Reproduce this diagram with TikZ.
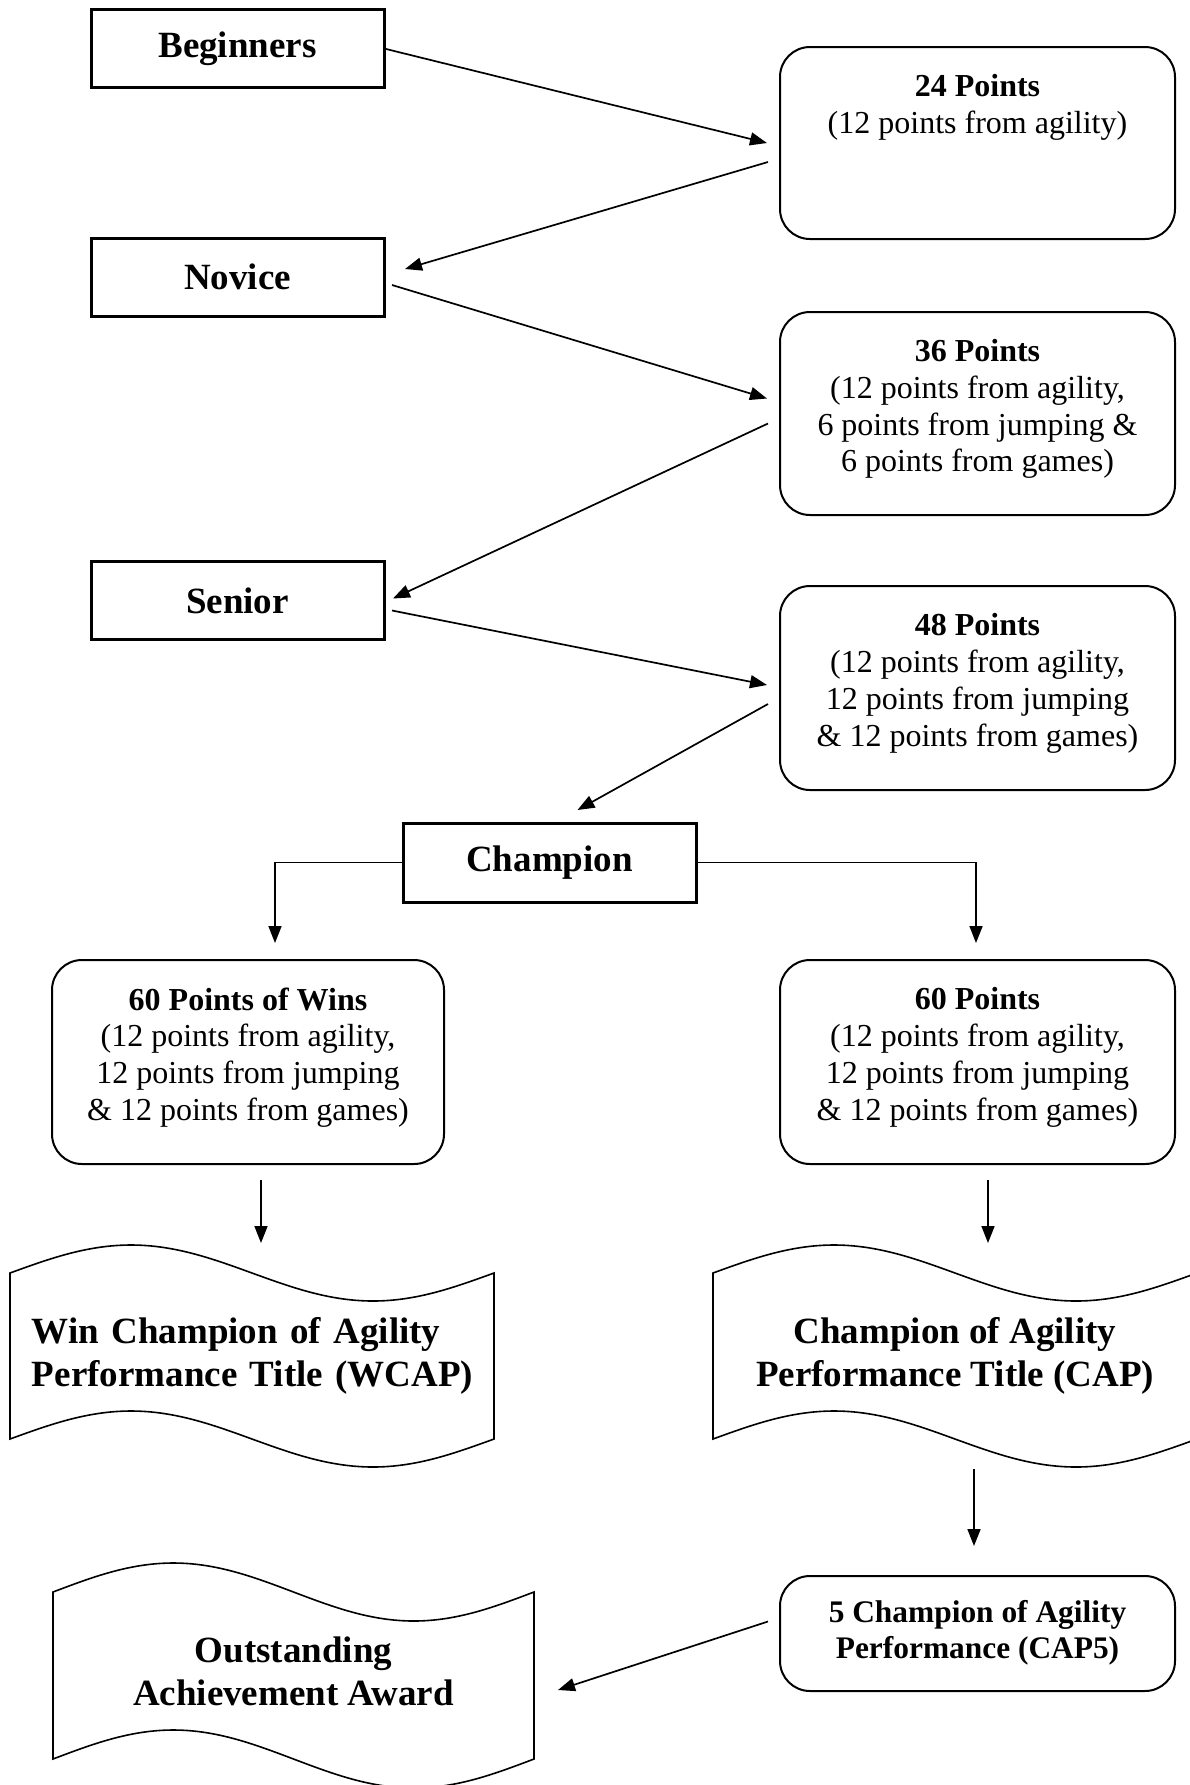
\documentclass[tikz,border=0pt]{standalone}
\usepackage{fontspec}
\setmainfont{Liberation Serif}
\usetikzlibrary{arrows.meta,calc}
% #1 centre coordinate, #2 half width, #3 half height, #4 quarter width, #5 amplitude
\newcommand\wavebox[5]{\draw[bline] ($(#1)+(-#2,-#3)$) sin ++(#4,-#5) cos ++(#4,#5) sin ++(#4,#5) cos ++(#4,-#5) -- ($(#1)+(#2,#3)$) sin ++(-#4,#5) cos ++(-#4,-#5) sin ++(-#4,-#5) cos ++(-#4,#5) -- cycle;}
\tikzset{
  rect/.style={draw, line width=1.5pt, minimum width=146.5pt, minimum height=39pt, inner sep=0pt, outer sep=0pt,
    font=\fontsize{18.5pt}{21.5pt}\selectfont\bfseries},
  rbox/.style={draw, line width=1pt, rounded corners=15pt, minimum width=197.5pt, inner sep=0pt, outer sep=0pt},
  rtext/.style={inner sep=0pt, outer sep=0pt, align=center, font=\fontsize{16pt}{18.4pt}\selectfont},
  bannertext/.style={inner sep=0pt, outer sep=0pt,
    font=\fontsize{18.5pt}{21.5pt}\selectfont\bfseries},
  bline/.style={line width=0.8pt, line join=miter},
  arr/.style={line width=0.85pt, -{Triangle[length=8.5pt,width=6.5pt]}}
}
\begin{document}
\begin{tikzpicture}[x=0.5pt,y=-0.5pt]
\useasboundingbox (0,0) rectangle (1190,1785);
\fill[white] (0,0) rectangle (1190,1785);
% left rectangles
\node[rect] (beg) at (237.5,48.5) {Beginners};
\node[rect] (nov) at (237.5,277) {Novice};
\node[rect] (sen) at (237.5,600.5) {Senior};
\node[rect, minimum height=39.5pt] (cha) at (549.5,862.5) {Champion};
% rounded boxes
\node[rbox, minimum height=96pt] (p24) at (977.5,143) {};
\node[rtext] (p24t) at ($(p24.center)+(0,-2)$)
  {\textbf{24 Points}\\(12 points from agility)\\\mbox{}\\\mbox{}};
\node[rbox, minimum height=101.5pt] (p36) at (977.5,413.5) {};
\node[rtext] (p36t) at ($(p36.center)+(0,-4.5)$)
  {\textbf{36 Points}\\(12 points from agility,\\6 points from jumping \&\\6 points from games)};
\node[rbox, minimum height=102pt] (p48) at (977.5,688) {};
\node[rtext] (p48t) at ($(p48.center)+(0,-4.5)$)
  {\textbf{48 Points}\\(12 points from agility,\\12 points from jumping\\\& 12 points from games)};
\node[rbox, minimum height=102pt, minimum width=196pt] (p60w) at (248,1062) {};
\node[rtext] (p60wt) at ($(p60w.center)+(0,-4.5)$)
  {\textbf{60 Points of Wins}\\(12 points from agility,\\12 points from jumping\\\& 12 points from games)};
\node[rbox, minimum height=102pt] (p60) at (977.5,1062) {};
\node[rtext] (p60t) at ($(p60.center)+(0,-4.5)$)
  {\textbf{60 Points}\\(12 points from agility,\\12 points from jumping\\\& 12 points from games)};
\node[rbox, minimum height=57.5pt] (cap5) at (977.5,1633.5) {};
\node[rtext, font=\fontsize{15.7pt}{18.2pt}\selectfont\bfseries] (cap5t) at ($(cap5.center)+(0,-1)$)
  {5 Champion of Agility\\Performance (CAP5)};
% banners
\coordinate (wcapc) at (252,1356);
\coordinate (capc) at (955,1356);
\coordinate (oaac) at (293.5,1675.5);
\node[bannertext, align=left, text width=232pt, anchor=west] (wcap) at (32,1356)
  {Win Champion of Agility\\Performance Title (WCAP)};
\node[bannertext, align=center] (cap) at (capc)
  {Champion of Agility\\Performance Title (CAP)};
\node[bannertext, align=center] (oaa) at ($(oaac)+(0,-4)$)
  {Outstanding\\Achievement Award};
\wavebox{wcapc}{242}{83}{121}{28}
\wavebox{capc}{242}{83}{121}{28}
\wavebox{oaac}{240.5}{83.5}{120.25}{29}
% connectors
\draw[arr] (beg.east) -- ($(p24.west)+(-13,0)$);
\draw[arr] ($(p24.west)+(-12,19)$) -- ($(nov.east)+(21,-8)$);
\draw[arr] ($(nov.east)+(8,8)$) -- ($(p36.west)+(-13,-15)$);
\draw[arr] ($(p36.west)+(-12,10)$) -- ($(sen.east)+(9,-2)$);
\draw[arr] ($(sen.east)+(8,10)$) -- ($(p48.west)+(-13,-3)$);
\draw[arr] ($(p48.west)+(-12,16)$) -- ($(cha.north)+(28,-13)$);
\draw[arr] (cha.west) -| ($(p60w.north)+(27,-17)$);
\draw[arr] (cha.east) -| ($(p60.north)+(-1.5,-17)$);
\draw[arr] ($(p60w.south)+(13,16)$) -- ($(wcapc)+(9,-113)$);
\draw[arr] ($(p60.south)+(10.5,16)$) -- ($(capc)+(33,-113)$);
\draw[arr] ($(capc)+(19,113)$) -- ($(cap5.north)+(-3.5,-30)$);
\draw[arr] ($(cap5.west)+(-12,-12)$) -- ($(oaac)+(264.5,14.5)$);
\end{tikzpicture}
\end{document}
